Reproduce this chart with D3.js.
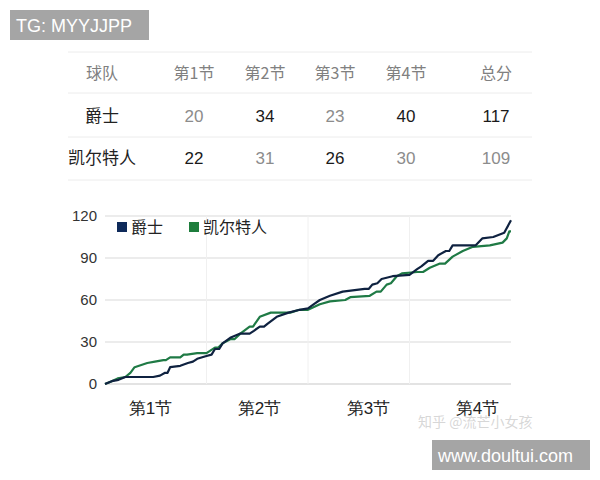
<!DOCTYPE html>
<html>
<head>
<meta charset="utf-8">
<script src="https://cdn.jsdelivr.net/npm/d3@7"></script>
<style>
  body { margin: 0; background: #fff; }
  svg { display: block; font-family: "Noto Sans CJK SC", "Liberation Sans", sans-serif; }
</style>
</head>
<body>
<svg id="chart" width="600" height="480"></svg>
<script>
// table data
const tableHeader = ["球队", "第1节", "第2节", "第3节", "第4节", "总分"];
const teams = ["爵士", "凯尔特人"];
const jazzQuarters = [20, 34, 23, 40, 117];
const celticsQuarters = [22, 31, 26, 30, 109];

// score progression: [game minute, running score]
const jazzScore = [
  [0, 0], [0.8, 2], [1.6, 3], [2.4, 5], [5.7, 5], [6.5, 6], [7.1, 8], [7.4, 8], [7.7, 12],
  [8.9, 13], [9.8, 15], [10.4, 16], [10.9, 18], [12, 20], [12.6, 21], [13, 25], [13.5, 25],
  [13.9, 29], [14.8, 33], [16, 36], [17.1, 36], [17.6, 38], [18.3, 41], [18.8, 41],
  [19.2, 43], [20.3, 48], [21.7, 51], [23, 53], [24, 54], [24.7, 57], [25.4, 60],
  [26.6, 63], [28.1, 66], [30.7, 68], [31.2, 68], [31.6, 71], [32.2, 72], [32.7, 75],
  [34, 77], [36, 78], [36.9, 82], [37.4, 84], [38.2, 88], [38.8, 88], [39.4, 92],
  [40.3, 95], [40.7, 95], [41.1, 99], [43.8, 99], [44.6, 104], [45.9, 105], [47.2, 108],
  [48, 117]
];
const celticsScore = [
  [0, 0], [0.8, 2], [1.5, 4], [2.4, 5], [3, 8], [3.5, 12], [5, 15], [5.9, 16],
  [6.9, 17], [7.2, 17], [7.7, 19], [8.9, 19], [9.3, 21], [9.7, 21], [10.9, 22], [12, 22],
  [13, 26], [13.4, 26], [13.9, 29], [14.8, 32], [15.3, 32], [16, 36], [17.1, 41], [17.5, 41],
  [18.3, 48], [19.6, 51], [21.9, 51], [23, 53], [24, 53], [25.4, 57], [26.6, 59], [28.4, 60],
  [29, 62], [31.3, 63], [32.1, 66], [32.6, 66], [33.3, 71], [33.8, 72], [34.5, 77],
  [35.1, 79], [36.9, 80], [37.6, 80], [38.4, 83], [39.6, 86], [40.2, 86], [41.1, 91],
  [42.3, 95], [43.5, 98], [45.5, 99], [47, 101], [47.5, 104], [47.8, 109], [48, 109]
];
const yTicks = [0, 30, 60, 90, 120];
const quarterLabels = ["第1节", "第2节", "第3节", "第4节"];
const quarterEnds = [12, 24, 36, 48];

const svg = d3.select("#chart");

// watermark boxes
svg.append("rect").attr("x", 10).attr("y", 10).attr("width", 139).attr("height", 30).attr("fill", "#a5a5a5");
svg.append("text").attr("x", 16).attr("y", 32).attr("fill", "#fff")
   .attr("font-family", "Liberation Sans, sans-serif").attr("font-size", 18).text("TG: MYYJJPP");

// ---- table ----
const colX = [102, 194, 265, 335, 406, 496];
const rowY = [73, 116, 158];
const lineY = [52, 93, 137, 180];

svg.selectAll(".tline").data(lineY).enter().append("line")
   .attr("x1", 68).attr("x2", 532).attr("y1", d => d).attr("y2", d => d)
   .attr("stroke", "#ececec").attr("stroke-width", 1);

svg.selectAll(".th").data(tableHeader).enter().append("text")
   .attr("x", (d, i) => colX[i]).attr("y", rowY[0] + 6)
   .attr("text-anchor", "middle").attr("font-size", 16).attr("fill", "#808080")
   .text(d => d);

[jazzQuarters, celticsQuarters].forEach((vals, r) => {
  const other = r === 0 ? celticsQuarters : jazzQuarters;
  const y = rowY[r + 1] + 6;
  svg.append("text").attr("x", colX[0]).attr("y", y).attr("text-anchor", "middle")
     .attr("font-size", 17).attr("fill", "#222").text(teams[r]);
  svg.selectAll(".row" + r).data(vals).enter().append("text")
     .attr("x", (d, i) => colX[i + 1]).attr("y", y)
     .attr("text-anchor", "middle").attr("font-size", 17)
     .attr("font-family", "Liberation Sans, sans-serif")
     .attr("fill", (d, i) => d > other[i] ? "#1a1a1a" : "#8c8c8c")
     .text(d => d);
});

// ---- line chart ----
const x = d3.scaleLinear().domain([0, 48]).range([105, 511]);
const y = d3.scaleLinear().domain([0, 120]).range([384, 216]);

// horizontal grid
svg.append("g").selectAll("line").data(yTicks).enter().append("line")
   .attr("x1", 105).attr("x2", 511).attr("y1", d => y(d)).attr("y2", d => y(d))
   .attr("stroke", d => d === 0 ? "#c8c8c8" : "#d9d9d9").attr("stroke-width", 1.2);

// faint vertical grid at quarter ends
svg.append("g").selectAll("line").data(quarterEnds.slice(0, 3)).enter().append("line")
   .attr("x1", d => x(d)).attr("x2", d => x(d)).attr("y1", 216).attr("y2", 384)
   .attr("stroke", "#f0f0f0").attr("stroke-width", 1);

const yAxis = d3.axisLeft(y).tickValues(yTicks).tickSize(0).tickPadding(8);
const gy = svg.append("g").attr("transform", "translate(105,0)").call(yAxis);
gy.select(".domain").remove();
gy.selectAll("text").attr("font-size", 15).attr("fill", "#333")
  .attr("font-family", "Liberation Sans, sans-serif");

// quarter labels
const xq = d3.scalePoint().domain(quarterLabels).range([150, 477]);
const gx = svg.append("g").attr("transform", "translate(0,384)")
   .call(d3.axisBottom(xq).tickSize(0).tickPadding(18));
gx.select(".domain").remove();
gx.selectAll("text").attr("font-size", 17).attr("fill", "#222");

const line = d3.line().x(d => x(d[0])).y(d => y(d[1]));

svg.append("path").datum(celticsScore).attr("d", line)
   .attr("fill", "none").attr("stroke", "#1f7a45").attr("stroke-width", 2.2)
   .attr("stroke-linejoin", "round");
svg.append("path").datum(jazzScore).attr("d", line)
   .attr("fill", "none").attr("stroke", "#0f2240").attr("stroke-width", 2.2)
   .attr("stroke-linejoin", "round");

// legend
const legend = [["爵士", "#0e2a5a", 117], ["凯尔特人", "#1e7d3c", 189]];
legend.forEach(([name, color, lx]) => {
  svg.append("rect").attr("x", lx).attr("y", 222).attr("width", 10).attr("height", 10).attr("fill", color);
  svg.append("text").attr("x", lx + 14).attr("y", 233).attr("font-size", 16).attr("fill", "#222").text(name);
});

// zhihu watermark
svg.append("text").attr("x", 418).attr("y", 427).attr("font-size", 14)
   .attr("fill", "#d0d0d0").attr("fill-opacity", 0.85).text("知乎 @流芒小女孩");

svg.append("rect").attr("x", 432).attr("y", 440).attr("width", 158).attr("height", 30).attr("fill", "#a5a5a5");
svg.append("text").attr("x", 438).attr("y", 462).attr("fill", "#fff")
   .attr("font-family", "Liberation Sans, sans-serif").attr("font-size", 18).text("www.doultui.com");
</script>
</body>
</html>
